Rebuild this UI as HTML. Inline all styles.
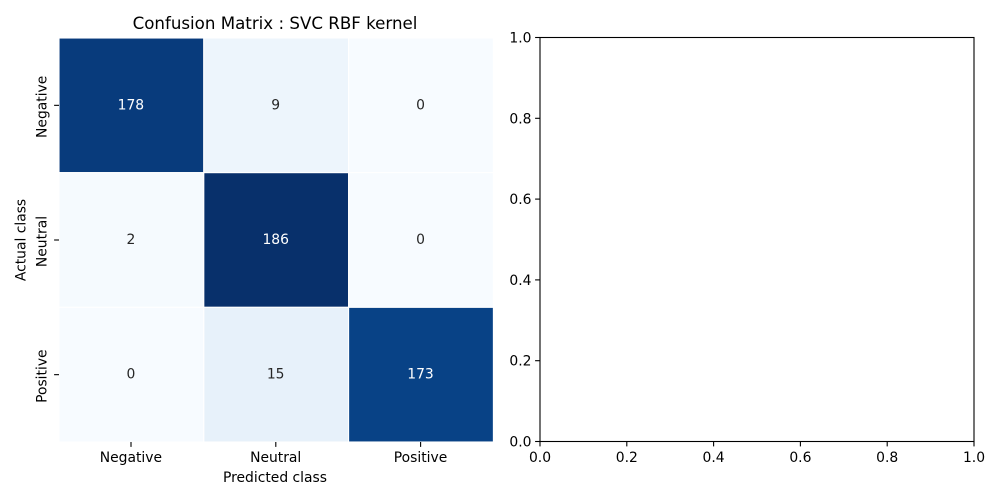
<!DOCTYPE html>
<html>
<head>
<meta charset="utf-8">
<style>
html,body{margin:0;padding:0;background:#fff;}
svg{display:block;}
text{font-family:"DejaVu Sans","Liberation Sans",sans-serif;font-size:13.89px;fill:#000;}
</style>
</head>
<body>
<svg id="fig" xmlns="http://www.w3.org/2000/svg" width="1000" height="500" viewBox="0 0 1000 500">
<text x="275" y="29" text-anchor="middle" style="font-size:16.67px">Confusion Matrix : SVC RBF kernel</text>
<g id="heat"></g>
<text x="275" y="482" text-anchor="middle">Predicted class</text>
<text transform="translate(25.5,240) rotate(-90)" text-anchor="middle">Actual class</text>
<g id="empty"></g>
</svg>
<script>
const classLabels = ['Negative', 'Neutral', 'Positive'];
const matrixRow0 = [178, 9, 0];
const matrixRow1 = [2, 186, 0];
const matrixRow2 = [0, 15, 173];
const emptyTicks = ['0.0', '0.2', '0.4', '0.6', '0.8', '1.0'];

const NS = 'http://www.w3.org/2000/svg';
const matrix = [matrixRow0, matrixRow1, matrixRow2];
const heat = document.getElementById('heat');
const empty = document.getElementById('empty');

const hx0 = 59, hx1 = 493.4, hy0 = 38, hy1 = 442;
const cellW = (hx1 - hx0) / classLabels.length;
const cellH = (hy1 - hy0) / classLabels.length;
const xCol = i => hx0 + i * cellW;
const yRow = i => hy0 + i * cellH;

const ax0 = 540, ax1 = 974, ay0 = 441.5, ay1 = 37.5;
const xAxis = v => ax0 + v * (ax1 - ax0);
const yAxis = v => ay0 + v * (ay1 - ay0);

const blues = [[247,251,255],[222,235,247],[198,219,239],[158,202,225],[107,174,214],[66,146,198],[33,113,181],[8,81,156],[8,48,107]];
function blueColor(t) {
  const p = Math.max(0, Math.min(1, t)) * (blues.length - 1);
  const i = Math.min(Math.floor(p), blues.length - 2);
  const f = p - i;
  const c = blues[i].map((a, k) => Math.round(a + (blues[i + 1][k] - a) * f));
  return 'rgb(' + c.join(',') + ')';
}
function mk(parent, tag, attrs, txt) {
  const el = document.createElementNS(NS, tag);
  for (const k in attrs) el.setAttribute(k, attrs[k]);
  if (txt !== undefined) el.textContent = txt;
  parent.appendChild(el);
  return el;
}

const vmax = Math.max(...matrix.flat());
const vmin = Math.min(...matrix.flat());
matrix.forEach((row, r) => {
  row.forEach((v, c) => {
    const t = (v - vmin) / ((vmax - vmin) || 1);
    const rect = mk(heat, 'rect', {x: xCol(c), y: yRow(r), width: cellW, height: cellH, fill: blueColor(t), stroke: '#fff', 'stroke-width': 1.1});
    
    
    const label = mk(heat, 'text', {x: xCol(c) + cellW / 2 - 0.5, y: yRow(r) + cellH / 2 + 4, 'text-anchor': 'middle', style: 'fill:' + (t > 0.6 ? '#ffffff' : '#262626')}, String(v));
    
    
  });
});
classLabels.forEach((name, i) => {
  const x = xCol(i) + cellW / 2;
  const y = yRow(i) + cellH / 2;
  const xt = mk(heat, 'line', {x1: x - 0.4, x2: x - 0.4, y1: hy1, y2: hy1 + 4.9, stroke: '#000', 'stroke-width': 1.1});
  
  
  const xl = mk(heat, 'text', {x: x - 0.5, y: 462, 'text-anchor': 'middle'}, name);
  
  
  const yt = mk(heat, 'line', {x1: hx0 - 4.9, x2: hx0, y1: y, y2: y, stroke: '#000', 'stroke-width': 1.1});
  
  
  const yl = mk(heat, 'text', {transform: 'translate(46.5,' + (y + 1.5) + ') rotate(-90)', 'text-anchor': 'middle'}, name);
  
  
});

const frame = mk(empty, 'rect', {x: ax0, y: ay1, width: ax1 - ax0, height: ay0 - ay1, fill: 'none', stroke: '#000', 'stroke-width': 1.1});


emptyTicks.forEach(lbl => {
  const v = parseFloat(lbl);
  const x = xAxis(v), y = yAxis(v);
  const xt = mk(empty, 'line', {x1: x, x2: x, y1: ay0, y2: ay0 + 4.9, stroke: '#000', 'stroke-width': 1.1});
  
  
  const xl = mk(empty, 'text', {x: x, y: 462, 'text-anchor': 'middle'}, lbl);
  
  
  const yt = mk(empty, 'line', {x1: ax0 - 4.9, x2: ax0, y1: y, y2: y, stroke: '#000', 'stroke-width': 1.1});
  
  
  const yl = mk(empty, 'text', {x: ax0 - 8.5, y: y + 5, 'text-anchor': 'end'}, lbl);
  
  
});
</script>
</body>
</html>
